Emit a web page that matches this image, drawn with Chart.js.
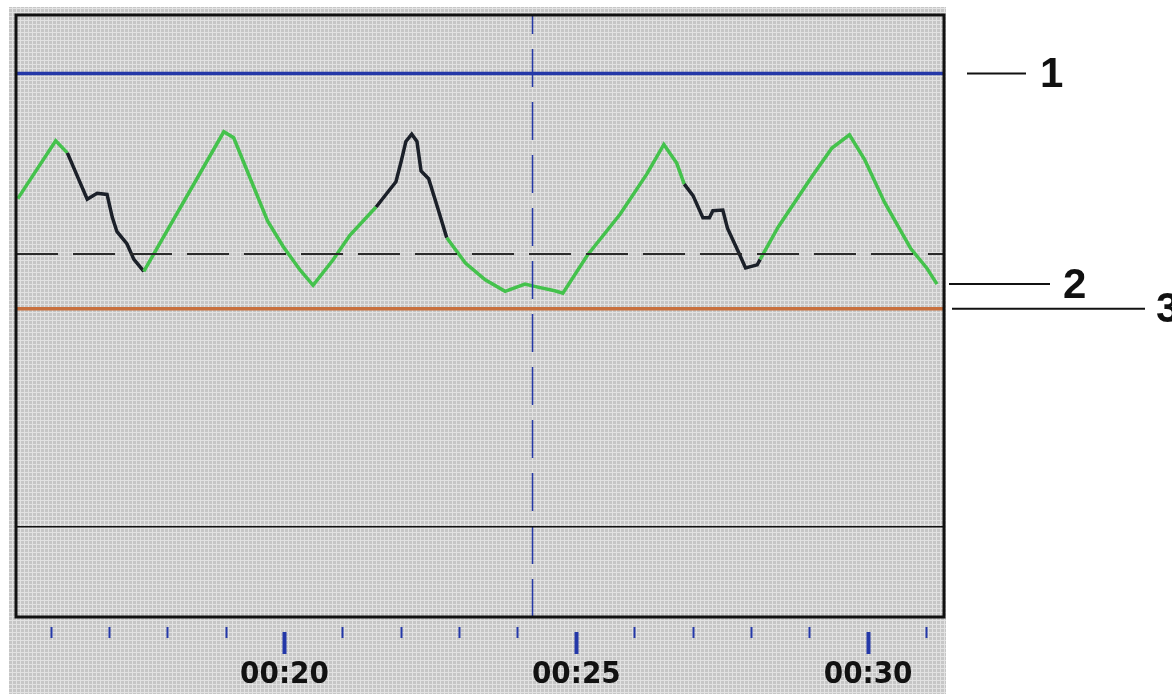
<!DOCTYPE html>
<html>
<head>
<meta charset="utf-8">
<script src="https://cdn.jsdelivr.net/npm/chart.js@4.4.1/dist/chart.umd.min.js"></script>
<style>
  html, body { margin: 0; padding: 0; background: #fff; }
</style>
</head>
<body>
<canvas id="trendChart" width="1172" height="700"></canvas>
<script>
// Time axis, seconds
const xMin = 15.4;
const xMax = 31.3;
const labelSeconds = [20, 25, 30];
const tickLabels = ["00:20", "00:25", "00:30"];

// Trend curve
const curveTime = [15.43, 16.08, 16.28, 16.62, 16.79, 16.96, 17.05, 17.13, 17.30, 17.42,
    17.59, 18.96, 19.13, 19.71, 19.98, 20.27, 20.49, 20.83, 21.12, 21.57,
    21.91, 22.00, 22.08, 22.18, 22.27, 22.34, 22.47, 22.64, 22.78, 23.10,
    23.44, 23.78, 24.12, 24.34, 24.63, 24.77, 25.19, 25.75, 26.21, 26.50,
    26.72, 26.85, 27.00, 27.17, 27.28, 27.34, 27.51, 27.59, 27.78, 27.90,
    28.10, 28.15, 28.46, 29.04, 29.38, 29.68, 29.94, 30.28, 30.73, 31.01, 31.18];
const curveValue = [69.5, 79.1, 77.1, 69.4, 70.4, 70.2, 66.4, 64.0, 62.0, 59.4,
    57.4, 80.6, 79.6, 65.8, 61.5, 57.6, 55.1, 59.3, 63.4, 68.1,
    72.3, 75.7, 79.0, 80.2, 79.0, 74.1, 72.8, 67.5, 63.0, 58.8,
    56.0, 54.1, 55.3, 54.8, 54.2, 53.8, 60.1, 66.9, 73.6, 78.5,
    75.4, 71.9, 70.0, 66.3, 66.3, 67.5, 67.6, 64.6, 60.6, 58.0,
    58.5, 59.4, 64.8, 73.2, 77.9, 80.1, 76.0, 68.9, 61.2, 57.9, 55.3];
// stretches of the curve shown in black
const darkStart = [16.28, 21.57, 26.85];
const darkEnd = [17.59, 22.78, 28.15];

// Levels
const level1 = 90.3;       // blue line (1)
const levelDashed = 60.3;  // dashed black
const level3 = 51.2;       // orange line (3)
const levelLow = 15;       // thin black
const cursorTime = 24.25;  // vertical dashed cursor

const GREEN = "#44c24c";
const DARK = "#1b2029";
const BLUE = "#2438a8";
const ORANGE = "#c8703e";

function flat(level) {
    return [{ x: xMin, y: level }, { x: xMax, y: level }];
}

function isDark(a, b) {
    for (let i = 0; i < darkStart.length; i++) {
        if (a >= darkStart[i] - 1e-6 && b <= darkEnd[i] + 1e-6) return true;
    }
    return false;
}

// grey screen with pixel texture
const screenBg = {
    id: "screenBg",
    beforeDraw(chart) {
        const ctx = chart.ctx;
        const tile = document.createElement("canvas");
        tile.width = 4; tile.height = 4;
        const g = tile.getContext("2d");
        g.fillStyle = "#c6c6c6";
        g.fillRect(0, 0, 4, 4);
        g.fillStyle = "#e2e2e2";
        g.fillRect(0, 0, 1, 4);
        g.fillRect(0, 0, 4, 1);
        ctx.save();
        ctx.fillStyle = ctx.createPattern(tile, "repeat");
        ctx.fillRect(9, 7, chart.chartArea.right - 7, 687);
        ctx.restore();
    }
};

// plot frame
const frame = {
    id: "frame",
    afterDatasetsDraw(chart) {
        const a = chart.chartArea;
        const ctx = chart.ctx;
        ctx.save();
        ctx.strokeStyle = "#111";
        ctx.lineWidth = 3;
        ctx.strokeRect(a.left, a.top, a.right - a.left, a.bottom - a.top);
        ctx.restore();
    }
};

// numbered callouts on the right
const callouts = {
    id: "callouts",
    afterDraw(chart) {
        const ctx = chart.ctx;
        const ys = chart.scales.y;
        const r = chart.chartArea.right;
        const items = [
            { t: "1", y: ys.getPixelForValue(level1), x0: r + 23, x1: r + 82, tx: r + 96 },
            { t: "2", y: ys.getPixelForValue(curveValue[curveValue.length - 1]), x0: r + 5, x1: r + 106, tx: r + 119 },
            { t: "3", y: ys.getPixelForValue(level3), x0: r + 8, x1: r + 201, tx: r + 212 }
        ];
        ctx.save();
        ctx.strokeStyle = "#111";
        ctx.lineWidth = 2;
        ctx.fillStyle = "#111";
        ctx.font = "bold 42px 'Liberation Sans', Arial, sans-serif";
        ctx.textBaseline = "middle";
        items.forEach(it => {
            ctx.beginPath();
            ctx.moveTo(it.x0, it.y);
            ctx.lineTo(it.x1, it.y);
            ctx.stroke();
            ctx.fillText(it.t, it.tx, it.y + 2);
        });
        ctx.restore();
    }
};

const ctx = document.getElementById("trendChart");

new Chart(ctx, {
    type: "line",
    data: {
        datasets: [
            {
                label: "1",
                data: flat(level1),
                borderColor: BLUE,
                borderWidth: 3.5
            },
            {
                label: "Dashed",
                data: flat(levelDashed),
                borderColor: "#2a2a2a",
                borderWidth: 2,
                borderDash: [42, 15]
            },
            {
                label: "3",
                data: flat(level3),
                borderColor: ORANGE,
                borderWidth: 3.5
            },
            {
                label: "Low",
                data: flat(levelLow),
                borderColor: "#111",
                borderWidth: 1.5
            },
            {
                label: "Cursor",
                data: [{ x: cursorTime, y: 0 }, { x: cursorTime, y: 100 }],
                borderColor: BLUE,
                borderWidth: 1.5,
                borderDash: [38, 15]
            },
            {
                label: "Trend",
                data: curveTime.map((t, i) => ({ x: t, y: curveValue[i] })),
                borderColor: GREEN,
                borderWidth: 3.5,
                segment: {
                    borderColor: c => isDark(c.p0.parsed.x, c.p1.parsed.x) ? DARK : GREEN
                }
            }
        ]
    },
    options: {
        responsive: false,
        animation: false,
        layout: {
            padding: { left: 16, top: 15, right: 228, bottom: 0 }
        },
        elements: {
            point: { radius: 0 },
            line: { tension: 0, fill: false }
        },
        plugins: {
            legend: { display: false },
            tooltip: { enabled: false }
        },
        scales: {
            x: {
                type: "linear",
                min: xMin,
                max: xMax,
                afterFit(scale) { scale.height = 83; },
                border: { display: false },
                grid: {
                    drawOnChartArea: false,
                    color: "rgba(0,0,0,0)",
                    tickLength: 40,
                    tickColor: BLUE,
                    tickWidth: c => labelSeconds.includes(c.tick.value) ? 4 : 2,
                    tickBorderDash: c => labelSeconds.includes(c.tick.value) ? [0, 15, 22, 100] : [0, 10, 11, 100]
                },
                ticks: {
                    stepSize: 1,
                    autoSkip: false,
                    includeBounds: false,
                    maxRotation: 0,
                    padding: 2,
                    color: "#111",
                    font: {
                        family: "'Liberation Sans Narrow', 'DejaVu Sans Condensed', 'Arial Narrow', sans-serif",
                        size: 31,
                        weight: "bold",
                        lineHeight: 1
                    },
                    callback: v => {
                        const i = labelSeconds.indexOf(v);
                        return i >= 0 ? tickLabels[i] : "";
                    }
                }
            },
            y: {
                display: false,
                min: 0,
                max: 100
            }
        }
    },
    plugins: [screenBg, frame, callouts]
});
</script>
</body>
</html>
